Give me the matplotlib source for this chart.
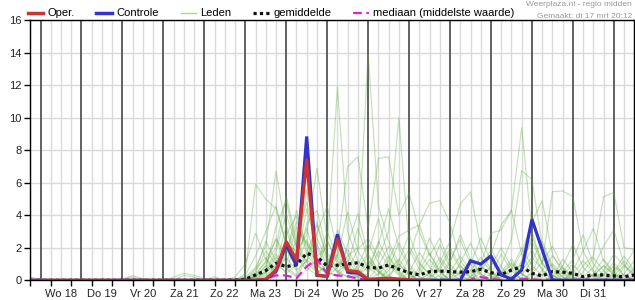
import matplotlib
matplotlib.use('Agg')
import matplotlib.pyplot as plt
from matplotlib.lines import Line2D

plt.rcParams['font.family'] = ['Liberation Sans', 'DejaVu Sans']
plt.rcParams['font.size'] = 8

# ================= data (uren vanaf wo 18 mrt 00:00, elke 6 uur) =================
uren = list(range(-6, 349, 6))
dag_labels = ['Wo 18', 'Do 19', 'Vr 20', 'Za 21', 'Zo 22', 'Ma 23', 'Di 24',
              'Wo 25', 'Do 26', 'Vr 27', 'Za 28', 'Zo 29', 'Ma 30', 'Di 31']

# operationele run (tot ~228 uur)
oper = [0.0] * 23 + [0.06, 0.63, 2.38, 1.25, 7.4, 0.33, 0.22, 2.52, 0.6, 0.53,
                     0.05, 0.1, 0.12, 0.08, 0.03, 0.0, 0.0]

controle = [0.0] * 23 + [0.05, 0.55, 2.2, 0.92, 8.85, 0.3, 0.25, 2.83, 0.5, 0.45,
                         0.05, 0.0, 0.0, 0.0, 0.0, 0.0, 0.0, 0.0, 0.0, 0.0,
                         1.2, 1.0, 1.5, 0.33, 0.08, 0.63, 3.75, 1.9, 0.02, 0.0,
                         0.0, 0.0, 0.0, 0.0, 0.0, 0.0, 0.0]

gemiddelde = [0.0] * 20 + [0.02, 0.06, 0.33, 0.6, 1.05, 0.84, 0.95, 1.66, 1.45, 0.88,
                           0.93, 1.0, 1.08, 0.8, 0.75, 0.94, 0.68, 0.47, 0.33, 0.53,
                           0.57, 0.53, 0.5, 0.53, 0.68, 0.47, 0.35, 0.63, 0.84, 0.43,
                           0.27, 0.53, 0.5, 0.43, 0.22, 0.33, 0.33, 0.27, 0.22, 0.33]

mediaan = [0.0] * 23 + [0.06, 0.3, 0.3, 0.12, 0.85, 1.3, 0.4, 0.3, 0.25, 0.1,
                        0.05, 0.03, 0.03, 0.03, 0.03, 0.03, 0.03, 0.03, 0.03, 0.03,
                        0.03, 0.2, 0.08, 0.03, 0.03, 0.1, 0.05, 0.03, 0.03, 0.03,
                        0.03, 0.03, 0.03, 0.03, 0.03, 0.03, 0.03]

# ensembleleden vanaf 108 uur (41 waarden)
leden = [
    [0, 0, 0.4, 5.9, 5.0, 4.4, 2.2, 1.4, 3.2, 1.0, 0.5, 0.3, 0.9, 0.2, 0, 0, 0.6, 1.3, 0.4, 0,
     0, 0, 0.3, 0.9, 0.2, 0, 0, 0, 0, 0.6, 1.4, 0.7, 0, 0, 0, 0, 0.3, 0.9, 0.4, 0, 0],
    [0, 0, 0.2, 0.8, 2.1, 6.7, 3.1, 1.2, 4.4, 2.0, 0.8, 1.6, 0.5, 0.2, 0.4, 1.8, 0.9, 0.3, 0, 0,
     0.5, 2.2, 0.8, 0.2, 0, 0, 0.4, 1.6, 0.6, 0, 0, 0, 0.2, 0.8, 0.2, 0, 0, 0, 0.5, 1.5, 0.6],
    [0, 0, 0, 0.3, 1.2, 2.5, 1.0, 3.3, 2.2, 1.5, 2.0, 11.9, 3.0, 1.2, 0.5, 2.4, 1.1, 0.4, 0, 0.6,
     1.7, 0.5, 0, 0, 1.0, 2.6, 1.2, 0.3, 0, 0, 0.5, 1.8, 0.7, 0, 0, 0, 0, 0.4, 1.1, 0.3, 0],
    [0, 0, 0, 0, 0.6, 1.8, 4.1, 2.0, 1.1, 3.6, 1.4, 0.8, 1.5, 2.0, 14.0, 4.6, 2.4, 1.0, 0.3, 0,
     0, 0.8, 2.0, 0.9, 0.2, 0, 0, 0.5, 1.3, 0.4, 0, 0, 0, 0.3, 1.0, 0.2, 0, 0, 0, 0.2, 0.7],
    [0, 0, 0, 0.2, 0.9, 0.4, 2.8, 4.0, 1.6, 0.7, 2.4, 1.2, 0.6, 1.9, 2.6, 1.4, 3.0, 10.0, 2.1, 1.0,
     0.4, 0, 0, 1.1, 2.3, 0.9, 0.2, 0, 0, 0.8, 1.9, 0.6, 0, 0, 0.4, 1.2, 0.5, 0, 0, 0, 0.3],
    [0, 0, 0, 0.5, 1.8, 1.0, 0.5, 2.6, 4.8, 2.2, 1.0, 2.0, 7.0, 7.6, 3.2, 7.5, 7.6, 4.0, 5.4, 3.0,
     1.5, 2.6, 1.0, 0.3, 0, 0, 0.9, 2.0, 0.8, 0, 0, 0.3, 1.0, 0.4, 0, 0, 0, 0.6, 1.6, 0.9, 0.2],
    [0, 0, 0.3, 1.5, 3.0, 4.6, 2.2, 1.8, 2.8, 6.9, 2.5, 1.0, 0.6, 0.2, 1.2, 0.5, 0, 0, 1.4, 3.4,
     1.6, 0.6, 0, 0, 0.2, 0.9, 0.3, 0, 0, 0, 0.4, 1.1, 2.1, 0.8, 0.1, 0, 0, 0, 0.3, 0.9, 0.4],
    [0, 0, 0, 0, 0.4, 1.4, 0.8, 0.3, 1.7, 3.4, 1.3, 0.5, 0.2, 0.9, 2.3, 1.1, 0.3, 0, 0, 0.8,
     2.6, 1.2, 0.4, 0, 0, 0.5, 1.6, 3.4, 4.3, 9.4, 3.0, 1.0, 0.3, 0, 0, 0.5, 1.4, 0.6, 0, 0, 0],
    [0, 0, 0, 0.6, 2.4, 1.2, 0.4, 1.0, 2.5, 1.0, 0.3, 3.1, 1.6, 0.5, 0, 0, 0.8, 2.3, 1.0, 0.2,
     0, 0, 1.1, 2.8, 1.3, 0.4, 0, 0.9, 2.5, 6.75, 6.2, 2.2, 0.8, 0.2, 0, 0, 0.4, 1.3, 0.5, 0, 0],
    [0, 0, 0, 0.2, 0.9, 2.6, 1.4, 0.6, 1.2, 2.9, 4.6, 1.8, 0.7, 0.3, 1.6, 0.6, 0, 0, 0.5, 1.7,
     0.8, 0.2, 0, 0, 0.6, 1.4, 0.5, 0, 0, 1.2, 2.4, 1.0, 5.45, 5.5, 5.15, 1.8, 0.6, 0.1, 0, 0.8, 1.9],
    [0, 0, 0, 0, 0.3, 0.9, 3.4, 1.5, 0.6, 1.3, 0.5, 0.2, 2.2, 4.1, 1.5, 0.6, 0.2, 0, 0, 0.4,
     1.3, 0.5, 0, 0, 0, 0.7, 1.9, 0.8, 0.2, 0, 0, 0.6, 1.5, 0.7, 0, 0.9, 1.5, 5.15, 5.4, 2.0, 1.9],
    [0, 0, 0.1, 0.7, 1.4, 0.5, 1.7, 3.6, 2.3, 0.9, 0.4, 1.5, 4.2, 1.8, 0.8, 0.3, 1.2, 2.7, 3.1, 3.4,
     4.75, 4.9, 3.5, 1.2, 0.4, 0, 0, 0.3, 1.0, 0.4, 0, 0, 0, 0.5, 1.3, 2.8, 1.0, 0.3, 0, 0, 0.2],
    [0, 0, 0, 0.3, 0.7, 3.3, 4.9, 2.0, 0.8, 0.3, 1.1, 2.6, 1.2, 0.4, 0, 0.9, 2.1, 0.8, 1.9, 0.7,
     0.2, 1.1, 2.4, 4.7, 5.45, 2.0, 0.6, 0, 0, 0.3, 1.2, 2.4, 0.9, 0.2, 0, 0, 0, 0.3, 0.9, 0.3, 0],
    [0, 0, 0, 0.1, 0.5, 1.0, 2.0, 0.7, 3.5, 4.3, 1.7, 0.6, 0.2, 0.7, 1.7, 3.8, 1.4, 0.5, 0, 0,
     0.4, 1.4, 0.6, 0, 0, 1.0, 2.9, 3.1, 4.3, 1.6, 0.5, 0.1, 0, 0.9, 2.2, 0.8, 0.2, 0, 0, 0.4, 1.2],
    [0, 0.2, 1.0, 2.9, 1.3, 0.4, 1.5, 4.3, 1.9, 0.8, 3.0, 1.4, 0.5, 0.1, 0, 0.4, 1.5, 0.6, 0, 0,
     0, 0.3, 1.2, 2.5, 1.0, 0.3, 0, 0, 0.6, 1.7, 3.6, 4.9, 1.6, 0.5, 0, 0, 0.3, 0.9, 0.3, 0, 0],
    [0, 0, 0, 0.4, 1.1, 2.0, 5.2, 2.4, 1.1, 0.5, 0.9, 2.1, 0.9, 0.3, 0.8, 2.2, 4.4, 2.0, 0.8, 0.2,
     0, 0, 0.5, 1.5, 0.6, 0, 0, 0.2, 0.7, 2.0, 0.9, 0.3, 0, 0, 0.6, 1.8, 3.2, 1.2, 0.4, 0, 0],
    [0, 0, 0, 0, 0.2, 0.8, 1.9, 0.9, 5.6, 2.6, 1.2, 0.5, 1.0, 3.2, 1.3, 0.5, 0.1, 1.2, 2.8, 1.1,
     0.3, 0, 0, 0.5, 1.2, 0.4, 0, 0, 0, 1.1, 2.7, 1.1, 0.3, 0, 0, 0.2, 0.8, 2.1, 3.1, 1.0, 0.3],
    [0, 0, 0, 0.2, 0.5, 1.6, 0.7, 0.2, 1.3, 0.6, 0.2, 0.8, 1.9, 0.7, 0.2, 0, 0.3, 1.0, 0.4, 0,
     0.2, 0.6, 1.8, 0.7, 0.1, 0, 0, 0.4, 1.1, 0.4, 0, 0, 0.2, 1.3, 0.5, 0, 0, 0, 0.4, 1.2, 0.5],
]

# kleine bultjes in de eerste dagen (-6 t/m 102 uur, 19 waarden)
leden_vroeg = [
    [0.2, 0.05, 0, 0, 0, 0, 0, 0, 0, 0.1, 0.28, 0.1, 0, 0, 0, 0, 0, 0, 0],
    [0, 0, 0, 0, 0, 0, 0, 0, 0, 0, 0, 0, 0, 0, 0.2, 0.43, 0.3, 0.1, 0],
    [0, 0, 0, 0, 0, 0, 0, 0, 0, 0.05, 0.2, 0, 0, 0, 0, 0.3, 0.2, 0, 0.22],
]

# ================= figuur =================
fig = plt.figure(figsize=(6.35, 3.0), dpi=100)
ax = fig.add_axes([30.3 / 635, 19.7 / 300, 604 / 635, 260 / 300])

ax.set_xlim(-6, 348)
ax.set_ylim(0, 16)

# rasterlijnen: licht elke 6 uur, donker om middernacht
for h in uren:
    if h % 24 == 0:
        ax.axvline(h, color='#555555', lw=1.3, zorder=1)
    else:
        ax.axvline(h, color='#dadada', lw=1.0, zorder=0)
ax.set_yticks(range(0, 17, 2))
ax.yaxis.grid(True, color='#dadada', lw=1.0, zorder=0)
ax.set_axisbelow(True)

kleur_leden = '#5aab3a'
for lid in leden:
    ax.plot(uren, [0.0] * 19 + lid, color=kleur_leden, lw=0.9, alpha=0.34, zorder=2)
for lid in leden_vroeg:
    ax.plot(uren, lid + [0.0] * 41, color=kleur_leden, lw=0.9, alpha=0.34, zorder=2)

ax.plot(uren, gemiddelde, color='#111111', lw=2.3, linestyle=(0, (1, 1)), zorder=3)
ax.plot(uren, mediaan, color='#e020e0', lw=1.6, linestyle=(0, (4, 2)), zorder=4)
ax.plot(uren, controle, color='#3333cc', lw=2.3, zorder=5, solid_joinstyle='miter')
ax.plot(uren[:len(oper)], oper, color='#cc3333', lw=2.3, zorder=6)

# assen
ax.set_xticks(list(range(-6, 349, 12)))
ax.set_xticklabels([])
ax.set_xticks([12 + 24 * k for k in range(len(dag_labels))], minor=True)
ax.set_xticklabels(dag_labels, minor=True)
ax.tick_params(axis='x', which='major', length=4, width=1, direction='out', color='black')
ax.tick_params(axis='x', which='minor', length=0, pad=6, labelsize=8, labelcolor='#222222')
ax.tick_params(axis='y', length=4, width=1, direction='out', pad=2, labelsize=8, labelcolor='#222222')
for s in ax.spines.values():
    s.set_color('black')
    s.set_linewidth(1.0)
    s.set_zorder(7)

# legenda
handles = [
    Line2D([], [], color='#cc3333', lw=2.5),
    Line2D([], [], color='#3333cc', lw=2.5),
    Line2D([], [], color='#a8d898', lw=1.0),
    Line2D([], [], color='#111111', lw=2.3, linestyle=(0, (1, 1))),
    Line2D([], [], color='#e020e0', lw=1.6, linestyle=(0, (4, 2))),
]
labels = ['Oper.', 'Controle', 'Leden', 'gemiddelde', 'mediaan (middelste waarde)']
fig.legend(handles, labels, ncol=5, loc='center left', bbox_to_anchor=(27.5 / 635, 1 - 13.5 / 300),
           frameon=False, fontsize=8, handlelength=1.4, handletextpad=0.4, columnspacing=1.95,
           borderpad=0, borderaxespad=0)

fig.text(632 / 635, 1 - 5 / 300, 'Weerplaza.nl - regio midden', ha='right', va='center',
         fontsize=6, color='#999999')
fig.text(632 / 635, 1 - 16.5 / 300, 'Gemaakt: di 17 mrt 20:12', ha='right', va='center',
         fontsize=6, color='#999999')

fig.savefig('out.png', dpi=100)
